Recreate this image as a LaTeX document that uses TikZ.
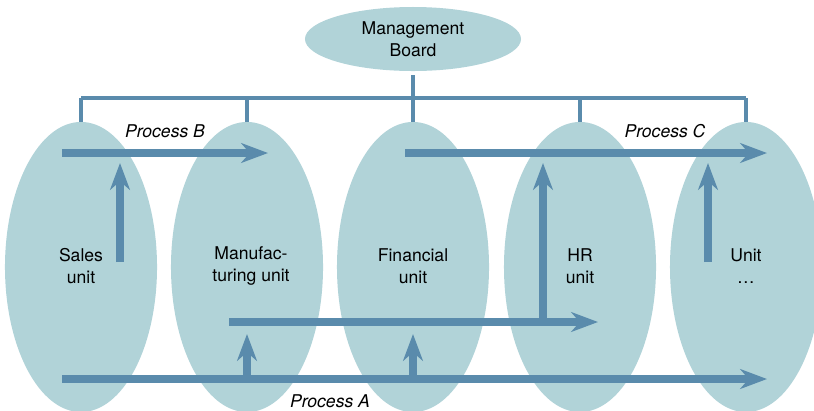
\documentclass[tikz,border=0pt]{standalone}
\usepackage{fontspec}
\setmainfont{TeX Gyre Heros}
\usetikzlibrary{shapes.geometric,arrows.meta}

\definecolor{unitfill}{RGB}{177,211,216}
\definecolor{flowblue}{RGB}{90,139,172}

\begin{document}
\begin{tikzpicture}[
    x=0.025cm, y=-0.025cm,
    every node/.style={font=\fontsize{12.5}{15.5}\selectfont},
    unit/.style={ellipse, fill=unitfill, inner sep=0pt,
                 minimum width=3.8cm, minimum height=7.25cm},
    board/.style={ellipse, fill=unitfill, inner sep=0pt, align=center,
                  minimum width=5.4cm, minimum height=1.6cm},
    bus/.style={flowblue, line width=2.8pt},
    flow/.style={flowblue, line width=5pt,
                 -{Stealth[length=19pt, width=14pt, inset=6pt]}},
    proc/.style={font=\fontsize{12.5}{15.5}\selectfont\itshape}]
    \useasboundingbox (0,0) rectangle (814,410);
    \clip (0,0) rectangle (814,410);

    % Einheiten
    \node[unit] (sales) at (81,267) {};
    \node[unit] (manu)  at (247,267) {};
    \node[unit] (fin)   at (413,267) {};
    \node[unit] (hr)    at (580,267) {};
    \node[unit] (unitx) at (746,267) {};
    \node[align=center] (salestxt) at (81,266) {Sales\\unit};
    \node[align=center] (manutxt)  at (251,266) {Manufac-\\turing unit};
    \node[align=center] (fintxt)   at (413,266) {Financial\\unit};
    \node[align=center] (hrtxt)    at (580,266) {HR\\unit};
    \node[align=center] (unittxt)  at (746,266) {Unit\\\ldots};

    % Leitung
    \node[board] (board) at (413,39) {Management\\Board};
    \coordinate (bus) at (413,98);
    \draw[bus] ([yshift=-0.1cm]board.south) -- (bus);
    \draw[bus] (sales.north |- bus) -- (unitx.north |- bus);
    \foreach \u in {sales,manu,fin,hr,unitx}
        \draw[bus] (\u.north |- bus) -- (\u.north);

    % Prozess B
    \coordinate (bstart) at (62,153);
    \coordinate (bend)   at (268,153);
    \draw[flow] (bstart) -- (bend);
    \node[proc] (blabel) at (165,131) {Process B};
    \draw[flow] (120,262) coordinate (salesup) -- (salesup |- 0,163);

    % Prozess C
    \coordinate (cstart) at (405,153);
    \coordinate (cend)   at (767,153);
    \draw[flow] (cstart) -- (cend);
    \node[proc] (clabel) at (665,131) {Process C};
    \draw[flow] (708,262) coordinate (unitup) -- (unitup |- 0,163);

    % Prozess A
    \coordinate (astart) at (62,379);
    \coordinate (aend)   at (767,379);
    \coordinate (mstart) at (229,322);
    \coordinate (mend)   at (598,322);
    \draw[flow] (astart) -- (aend);
    \draw[flow] (mstart) -- (mend);
    \node[proc] (alabel) at (330,401) {Process A};
    \draw[flow] (manu |- astart) -- (manu |- 0,334);
    \draw[flow] (fin |- astart) -- (fin |- 0,334);
    \draw[flow] (543,322) coordinate (hrup) -- (hrup |- 0,163);
\end{tikzpicture}
\end{document}
